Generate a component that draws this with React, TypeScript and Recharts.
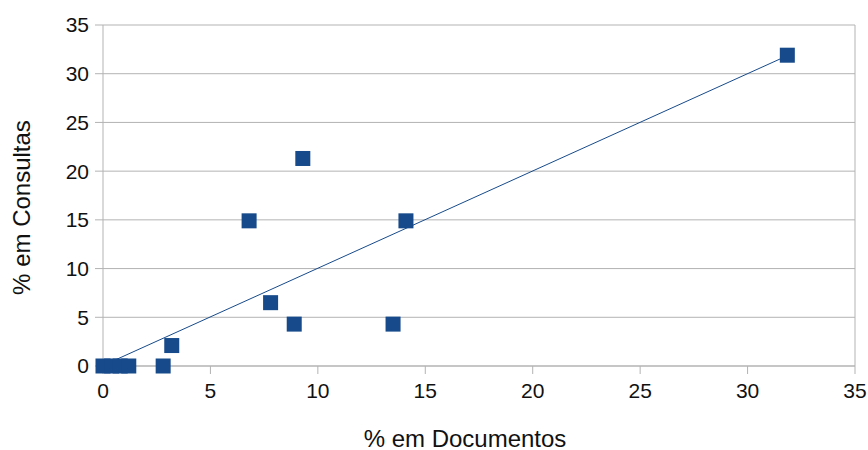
import {
  ScatterChart,
  Scatter,
  XAxis,
  YAxis,
  CartesianGrid,
  ReferenceLine,
} from "recharts";

// % em Documentos vs % em Consultas
const docPct = [0, 0.4, 0.8, 1.2, 2.8, 3.2, 6.8, 7.8, 8.9, 9.3, 13.5, 14.1, 31.85];
const queryPct = [0, 0, 0, 0, 0, 2.1, 14.9, 6.5, 4.3, 21.3, 4.3, 14.9, 31.9];

// linear trend line endpoints
const trendX = [0, 31.85];
const trendY = [0.05, 31.85];

const ticks = [0, 5, 10, 15, 20, 25, 30, 35];

const BLUE = "#164a8a";
const GRID = "#b3b3b3";
const FONT = "Liberation Sans, Arial, sans-serif";

const points = docPct.map((x, i) => ({ x, y: queryPct[i] }));

function SquareDot(props: { cx?: number; cy?: number }) {
  const { cx = 0, cy = 0 } = props;
  return <rect x={cx - 7.5} y={cy - 7.5} width={15} height={15} fill={BLUE} />;
}

export default function App() {
  const tickStyle = { fill: "#111", fontSize: 21, fontFamily: FONT };
  const labelStyle = { fill: "#111", fontSize: 24, fontFamily: FONT };
  return (
    <div style={{ position: "absolute", left: 0, top: 0, background: "#fff" }}>
      <ScatterChart width={868} height={450} margin={{ top: 25, right: 13, bottom: 0, left: 0 }}>
        <CartesianGrid vertical={false} stroke={GRID} />
        <XAxis
          type="number"
          dataKey="x"
          domain={[0, 35]}
          ticks={ticks}
          interval={0}
          tick={tickStyle}
          tickSize={8}
          tickMargin={9}
          stroke={GRID}
          height={84}
          label={{
            value: "% em Documentos",
            position: "insideBottom",
            offset: 3,
            dx: -14,
            style: labelStyle,
          }}
        />
        <YAxis
          type="number"
          dataKey="y"
          domain={[0, 35]}
          ticks={ticks}
          interval={0}
          tick={tickStyle}
          tickSize={8}
          tickMargin={6}
          stroke={GRID}
          width={103}
          label={{
            value: "% em Consultas",
            angle: -90,
            position: "insideLeft",
            offset: 21,
            dy: 12,
            style: { ...labelStyle, textAnchor: "middle" },
          }}
        />
        <ReferenceLine x={35} stroke={GRID} />
        <ReferenceLine
          segment={[
            { x: trendX[0], y: trendY[0] },
            { x: trendX[1], y: trendY[1] },
          ]}
          stroke={BLUE}
          strokeWidth={1}
          ifOverflow="extendDomain"
        />
        <Scatter data={points} fill={BLUE} shape={<SquareDot />} isAnimationActive={false} />
      </ScatterChart>
    </div>
  );
}
